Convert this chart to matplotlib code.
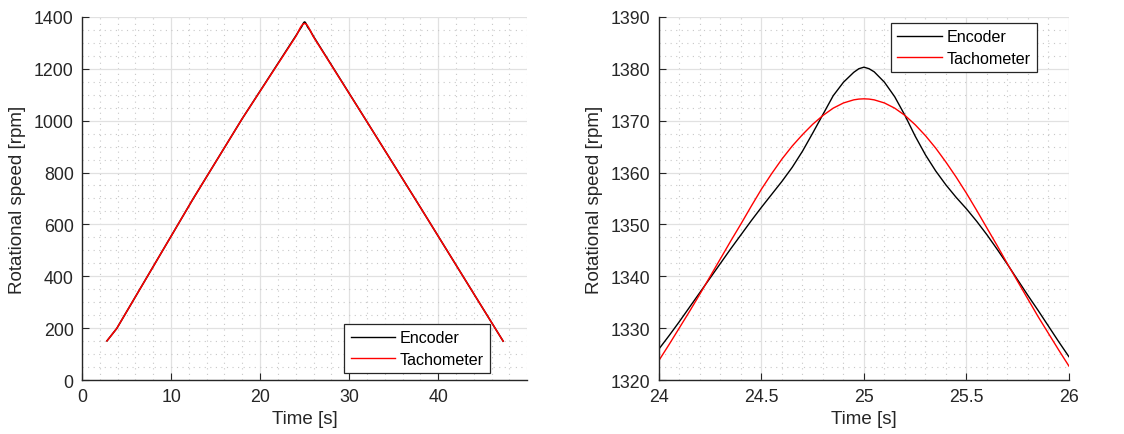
import numpy as np
import matplotlib.pyplot as plt
from matplotlib.ticker import MultipleLocator

# Detail around the peak (right panel)
t_peak = [24.0, 24.05, 24.1, 24.15, 24.2, 24.25, 24.3, 24.35, 24.4, 24.45, 24.5,
          24.55, 24.6, 24.65, 24.7, 24.75, 24.8, 24.85, 24.9, 24.95, 24.975, 25.0,
          25.025, 25.05, 25.1, 25.15, 25.2, 25.25, 25.3, 25.35, 25.4, 25.45, 25.5,
          25.55, 25.6, 25.65, 25.7, 25.75, 25.8, 25.85, 25.9, 25.95, 26.0]
encoder_peak = [1326.0, 1328.6, 1331.3, 1334.1, 1336.9, 1339.7, 1342.5, 1345.3, 1348.0, 1350.7, 1353.3,
                1355.8, 1358.3, 1361.0, 1364.1, 1367.6, 1371.2, 1374.8, 1377.4, 1379.3, 1380.0, 1380.3,
                1380.0, 1379.4, 1377.4, 1374.6, 1371.0, 1367.0, 1363.4, 1360.3, 1357.6, 1355.2, 1353.0,
                1350.6, 1348.0, 1345.2, 1342.3, 1339.3, 1336.3, 1333.4, 1330.4, 1327.4, 1324.5]
tacho_peak = [1323.8, 1326.9, 1330.1, 1333.3, 1336.6, 1340.0, 1343.4, 1346.8, 1350.1, 1353.5, 1356.8,
              1359.8, 1362.6, 1365.1, 1367.3, 1369.3, 1371.0, 1372.4, 1373.4, 1374.0, 1374.15, 1374.2,
              1374.15, 1374.0, 1373.4, 1372.4, 1371.0, 1369.2, 1367.1, 1364.7, 1362.0, 1359.1, 1356.0,
              1352.7, 1349.3, 1345.9, 1342.4, 1339.0, 1335.6, 1332.2, 1329.0, 1325.8, 1322.7]

# Ramp parts of the full run (left panel)
t_up = [2.8, 3.9, 12.5, 18.0]
v_up = [151, 199, 700, 1008]
t_down = [32.0, 38.0, 44.0, 47.3]
v_down = [996, 666, 333, 150]

t_full = t_up + t_peak + t_down
encoder_full = v_up + encoder_peak + v_down
tacho_full = v_up + tacho_peak + v_down

plt.rcParams['font.family'] = ['Liberation Sans', 'DejaVu Sans']
plt.rcParams['font.size'] = 12.5
text_col = '#262626'

fig = plt.figure(figsize=(11.24, 4.35), dpi=100)
ax1 = fig.add_axes([0.073, 0.124, 0.396, 0.835])
ax2 = fig.add_axes([0.5863, 0.124, 0.3647, 0.835])


def style_axes(ax):
    for side in ['top', 'right']:
        ax.spines[side].set_visible(False)
    for side in ['left', 'bottom']:
        ax.spines[side].set_color(text_col)
        ax.spines[side].set_linewidth(1.0)
    ax.tick_params(which='major', direction='in', length=5, color=text_col,
                   labelcolor=text_col, labelsize=12.8, pad=6)
    ax.tick_params(which='minor', length=0)
    ax.grid(which='major', color='#e1e1e1', linewidth=0.9, linestyle='-')
    ax.grid(which='minor', color='#c8c8c8', linewidth=0.8, linestyle=(0, (1, 4)))
    ax.set_axisbelow(True)
    ax.set_xlabel('Time [s]', color=text_col, fontsize=13.5, labelpad=3)
    ax.set_ylabel('Rotational speed [rpm]', color=text_col, fontsize=13.5, labelpad=6)


def add_legend(ax, loc, anchor):
    leg = ax.legend(loc=loc, bbox_to_anchor=anchor, fancybox=False,
                    edgecolor=text_col, framealpha=1, handlelength=2.75,
                    handletextpad=0.3, borderpad=0.4, borderaxespad=0,
                    labelspacing=0.4, fontsize=11.6)
    leg.get_frame().set_linewidth(0.9)
    for line in leg.get_lines():
        line.set_linewidth(1.0)
    return leg


# Left: full run
ax1.plot(t_full, encoder_full, color='black', linewidth=1.1, label='Encoder')
ax1.plot(t_full, tacho_full, color='#ff0000', linewidth=1.1, label='Tachometer')
ax1.set_xlim(0, 50)
ax1.set_ylim(0, 1400)
ax1.set_xticks([0, 10, 20, 30, 40])
ax1.xaxis.set_minor_locator(MultipleLocator(2))
ax1.yaxis.set_major_locator(MultipleLocator(200))
ax1.yaxis.set_minor_locator(MultipleLocator(50))
style_axes(ax1)
add_legend(ax1, 'lower right', (0.917, 0.019))

# Right: zoom on the peak
ax2.plot(t_peak, encoder_peak, color='black', linewidth=1.0, label='Encoder')
ax2.plot(t_peak, tacho_peak, color='#ff0000', linewidth=1.0, label='Tachometer')
ax2.set_xlim(24, 26)
ax2.set_ylim(1320, 1390)
ax2.set_xticks([24, 24.5, 25, 25.5, 26])
ax2.set_xticklabels(['24', '24.5', '25', '25.5', '26'])
ax2.xaxis.set_minor_locator(MultipleLocator(0.1))
ax2.yaxis.set_major_locator(MultipleLocator(10))
ax2.yaxis.set_minor_locator(MultipleLocator(2.5))
style_axes(ax2)
add_legend(ax2, 'upper right', (0.922, 0.983))

fig.savefig('out.png', dpi=100)
